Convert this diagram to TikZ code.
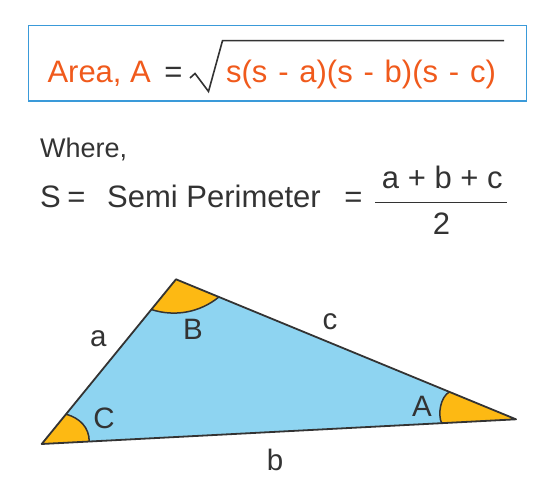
\documentclass[tikz,border=0pt]{standalone}
\usepackage{fontspec}
\setmainfont{Liberation Sans}
\usetikzlibrary{calc}
\definecolor{orangeT}{HTML}{F05A1C}
\definecolor{boxblue}{HTML}{3A9AD9}
\definecolor{trifill}{HTML}{8ED4F1}
\definecolor{angfill}{HTML}{FDB913}
\definecolor{darkT}{HTML}{333333}
\newcommand\rsp{\hspace{10.8pt}}
\tikzset{
  txt/.style={inner sep=0pt, text=darkT, anchor=base},
  big/.style={font=\fontsize{31}{36}\selectfont},
  mid/.style={font=\fontsize{31}{36}\selectfont},
  small/.style={font=\fontsize{27}{32}\selectfont},
  lbl/.style={txt, font=\fontsize{29.5}{34}\selectfont},
  edge/.style={draw=darkT, line width=1.8pt, line join=round},
  angsec/.style={fill=angfill, draw=darkT, line width=1.5pt},
}
\begin{document}
\begin{tikzpicture}[x=1pt, y=-1pt]
\useasboundingbox (0,0) rectangle (559,502);
% formula box
\draw[boxblue, line width=1.5pt] (28.5,25.7) rectangle (526.7,101);
\node[txt, big, text=orangeT, anchor=base west] (area) at (47.3,82.3) {Area, A};
\node[txt, big] (eq1) at (173.3,82.3) {=};
\coordinate (r0) at (190,78);
\coordinate (r1) at (195,73.5);
\coordinate (r2) at (208.5,91.5);
\coordinate (r3) at (222.5,40.7);
\coordinate (r4) at (504,40.7);
\draw[darkT, line width=1.6pt, line join=miter] (r0) -- (r1) -- (r2) -- (r3) -- (r4);
\node[txt, big, text=orangeT] (rad) at (361,82.3) {s(s\rsp-\rsp a)(s\rsp-\rsp b)(s\rsp-\rsp c)};
% where
\node[txt, small, anchor=base west] (where) at (40,157.3) {Where,};
\node[txt, mid, anchor=base west] (S) at (40,207.3) {S};
\node[txt, mid] (eq2) at (76.5,207.3) {=};
\node[txt, mid, anchor=base west] (semi) at (107,207.3) {Semi Perimeter};
\node[txt, mid] (eq3) at (353.5,207.3) {=};
\node[txt, mid] (num) at (442.3,188.3) {a + b + c};
\node[txt, mid] (den) at (441.5,235) {2};
\coordinate (f0) at (375,202.3);
\coordinate (f1) at (506.7,202.3);
\draw[darkT, line width=1.5pt] (f0) -- (f1);
% triangle
\coordinate (L) at (41.7,444);
\coordinate (T) at (176,279.3);
\coordinate (R) at (516,419.3);
\fill[trifill] (L) -- (T) -- (R) -- cycle;
% angle sectors
\coordinate (c1) at ($(L)!38.5pt!(T)$);
\coordinate (c2) at ($(L)!47.6pt!(R)$);
\coordinate (b1) at ($(T)!39pt!(L)$);
\coordinate (b2) at ($(T)!46.4pt!(R)$);
\coordinate (a1) at ($(R)!72pt!(T)$);
\coordinate (a2) at ($(R)!74.5pt!(L)$);
\fill[angfill] (L) -- (c1) .. controls +(14,4) and +(0,-14) .. (c2) -- cycle;
\fill[angfill] (T) -- (b1) .. controls +(23.4,7.6) and +(-18.9,15.5) .. (b2) -- cycle;
\fill[angfill] (R) -- (a1) .. controls +(-9,5) and +(-4,-9) .. (a2) -- cycle;
\draw[darkT, line width=1.5pt] (c1) .. controls +(14,4) and +(0,-14) .. (c2);
\draw[darkT, line width=1.5pt] (b1) .. controls +(23.4,7.6) and +(-18.9,15.5) .. (b2);
\draw[darkT, line width=1.5pt] (a1) .. controls +(-9,5) and +(-4,-9) .. (a2);
\draw[edge] (L) -- (T) -- (R) -- cycle;
% labels
\node[lbl] (la) at (98.3,346.7) {a};
\node[lbl] (lB) at (193,339.3) {B};
\node[lbl] (lc) at (330,329.3) {c};
\node[lbl] (lC) at (104,428.3) {C};
\node[lbl] (lA) at (422,416.7) {A};
\node[lbl] (lb) at (275,470) {b};
\end{tikzpicture}
\end{document}
